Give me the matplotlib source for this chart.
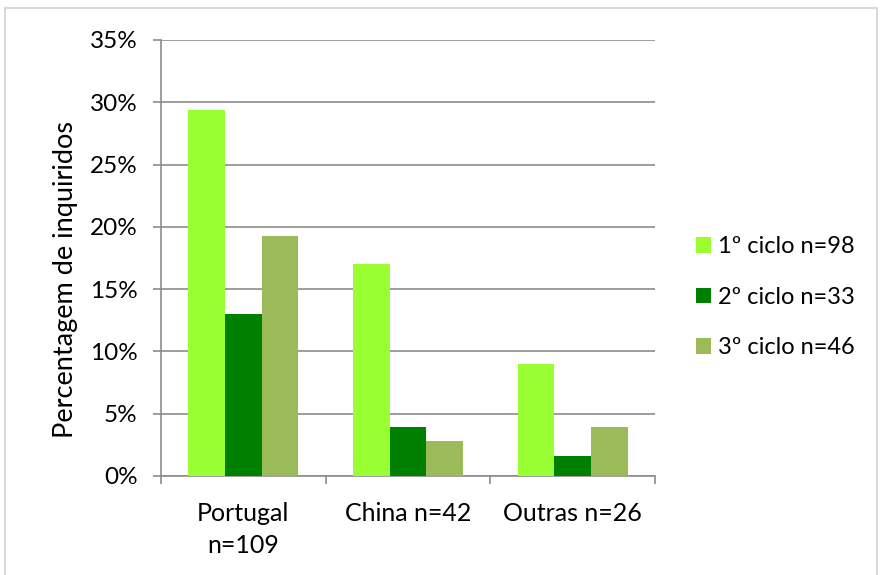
import numpy as np
import matplotlib.pyplot as plt
from matplotlib.patches import Rectangle

categories = ["Portugal\nn=109", "China n=42", "Outras n=26"]
series = ["1º ciclo n=98", "2º ciclo n=33", "3º ciclo n=46"]
ciclo1 = [29.4, 17.0, 9.0]
ciclo2 = [13.0, 3.9, 1.6]
ciclo3 = [19.3, 2.8, 3.9]
colors = ["#99FF33", "#008000", "#9BBB59"]

plt.rcParams['font.family'] = ['Lato', 'DejaVu Sans']

fig = plt.figure(figsize=(8.81, 5.75), dpi=100)
ax = fig.add_axes([161/881, 1 - 476/575, (655-161)/881, (476-40)/575])

# outer chart border
fig.patches.append(Rectangle((5/881, -0.01), (877-5)/881, 1 - 8/575 + 0.01,
                             transform=fig.transFigure, fill=False,
                             edgecolor="#d9d9d9", linewidth=1.5))

x = np.arange(len(categories))
w = 0.222
for i, (vals, c, lab) in enumerate(zip([ciclo1, ciclo2, ciclo3], colors, series)):
    ax.bar(x + (i - 1) * w, vals, width=w, color=c, label=lab, zorder=3)

ax.set_xlim(-0.5, 2.5)
ax.set_ylim(0, 35)
ax.set_yticks(np.arange(0, 36, 5))
ax.set_yticklabels([f"{v}%" for v in range(0, 36, 5)], fontsize=17.5)
ax.yaxis.grid(True, color="#8c8c8c", linewidth=1.2, zorder=0)
ax.set_xticks(x)
ax.set_xticklabels(categories, fontsize=18, linespacing=1.45)
ax.set_xticks([-0.5, 0.5, 1.5, 2.5], minor=True)
ax.tick_params(axis="x", which="major", length=0, pad=19)
ax.tick_params(axis="x", which="minor", length=6, color="#8c8c8c", width=1.2)
ax.tick_params(axis="y", length=6, color="#8c8c8c", width=1.2, pad=11)

for s in ["top", "right"]:
    ax.spines[s].set_visible(False)
for s in ["left", "bottom"]:
    ax.spines[s].set_color("#8c8c8c")
    ax.spines[s].set_linewidth(1.2)

ax.set_ylabel("Percentagem de inquiridos", fontsize=19.5)
ax.yaxis.set_label_coords(-0.168, 0.45)

ax.legend(loc="center left", bbox_to_anchor=(1.04, 0.41), frameon=False,
          fontsize=17, handlelength=0.65, handleheight=0.65,
          handletextpad=0.3, labelspacing=1.25)

fig.savefig("out.png", dpi=100)
